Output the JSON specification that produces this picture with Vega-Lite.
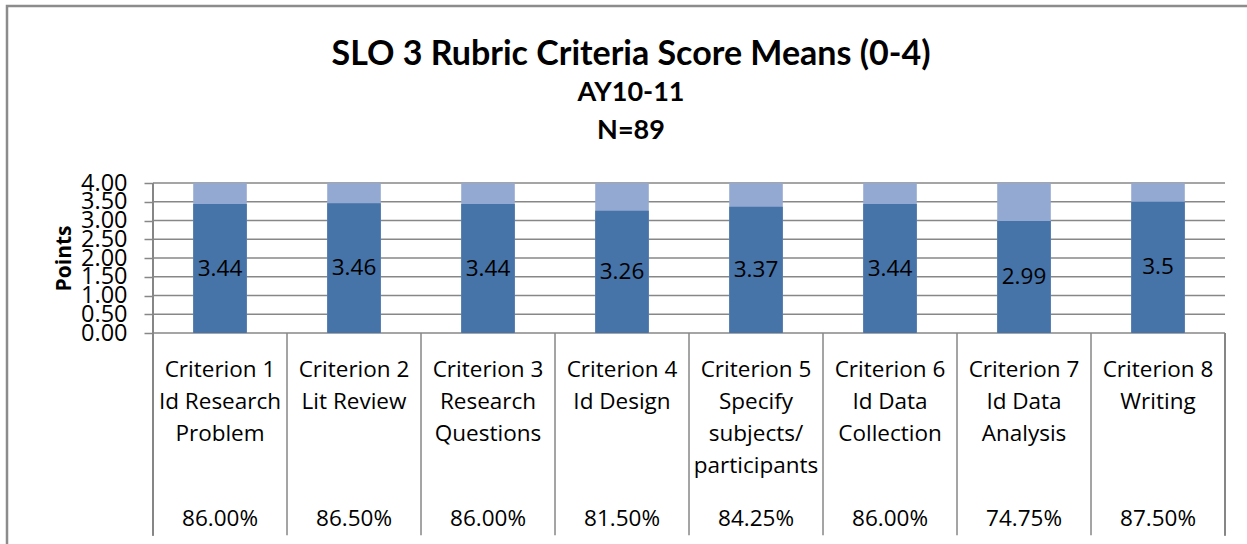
{
  "$schema": "https://vega.github.io/schema/vega-lite/v6.json",
  "autosize": "none",
  "padding": {"left": 7, "top": 6, "right": 0, "bottom": 0},
  "width": 1340,
  "height": 560,
  "background": "white",
  "config": {
    "view": {"stroke": "#8c8c8c", "strokeWidth": 2.5},
    "font": "Open Sans"
  },
  "title": {
    "text": "SLO 3 Rubric Criteria Score Means (0-4)",
    "subtitle": ["AY10-11", "N=89"],
    "anchor": "middle",
    "dx": -46,
    "offset": -138,
    "font": "Lato",
    "fontSize": 34,
    "fontWeight": "bold",
    "color": "#000000",
    "subtitleFont": "Lato",
    "subtitleFontSize": 27,
    "subtitleFontWeight": "bold",
    "subtitleColor": "#000000",
    "subtitleLineHeight": 38,
    "subtitlePadding": 8
  },
  "data": {
    "values": [
      {"criterion": "Criterion 1", "lines": ["Criterion 1", "Id Research", "Problem"], "value": 3.44, "pct": 0.86},
      {"criterion": "Criterion 2", "lines": ["Criterion 2", "Lit Review"], "value": 3.46, "pct": 0.865},
      {"criterion": "Criterion 3", "lines": ["Criterion 3", "Research", "Questions"], "value": 3.44, "pct": 0.86},
      {"criterion": "Criterion 4", "lines": ["Criterion 4", "Id Design"], "value": 3.26, "pct": 0.815},
      {"criterion": "Criterion 5", "lines": ["Criterion 5", "Specify", "subjects/", "participants"], "value": 3.37, "pct": 0.8425},
      {"criterion": "Criterion 6", "lines": ["Criterion 6", "Id Data", "Collection"], "value": 3.44, "pct": 0.86},
      {"criterion": "Criterion 7", "lines": ["Criterion 7", "Id Data", "Analysis"], "value": 2.99, "pct": 0.7475},
      {"criterion": "Criterion 8", "lines": ["Criterion 8", "Writing"], "value": 3.5, "pct": 0.875}
    ]
  },
  "resolve": {"scale": {"x": "independent"}},
  "layer": [
    {
      "layer": [
        {
          "data": {"values": [{"g": 0}, {"g": 0.5}, {"g": 1}, {"g": 1.5}, {"g": 2}, {"g": 2.5}, {"g": 3}, {"g": 3.5}, {"g": 4}]},
          "mark": {"type": "rule", "color": "#878787", "strokeWidth": 1.5},
          "encoding": {
            "y": {"field": "g", "type": "quantitative",
                  "scale": {"domain": [-6.2133, 8.72], "nice": false, "zero": false},
                  "axis": {"values": [0, 0.5, 1, 1.5, 2, 2.5, 3, 3.5, 4], "format": ".2f", "offset": -146, "orient": "left",
                           "domain": false, "grid": false, "tickSize": 9, "tickColor": "#878787", "tickWidth": 1.5,
                           "labelFont": "Open Sans", "labelFontSize": 23.5, "labelColor": "#000000", "labelPadding": 17,
                           "labelOverlap": false, "labelBound": false, "labelFlush": false,
                           "title": "Points", "titleFont": "Open Sans", "titleFontSize": 21, "titleFontWeight": "bold",
                           "titleColor": "#000000", "titlePadding": 6, "titleY": 252}},
            "x": {"datum": 0, "type": "quantitative", "axis": null,
                  "scale": {"domain": [-1.0896, 8.9104], "nice": false, "zero": false}},
            "x2": {"datum": 8}
          }
        },
        {
          "mark": {"type": "rule", "color": "#878787", "strokeWidth": 1.5},
          "encoding": {
            "x": {"datum": 0, "type": "quantitative", "axis": null},
            "y": {"datum": 4, "type": "quantitative"},
            "y2": {"datum": -5.39}
          }
        },
        {
          "mark": {"type": "rule", "color": "#878787", "strokeWidth": 1.5},
          "encoding": {
            "x": {"datum": 8, "type": "quantitative", "axis": null},
            "y": {"datum": 0, "type": "quantitative"},
            "y2": {"datum": -5.39}
          }
        }
      ]
    },
    {
      "layer": [
        {
          "mark": {"type": "bar", "color": "#94a9d1", "width": {"band": 0.4}},
          "encoding": {
            "x": {"field": "criterion", "type": "nominal", "axis": null,
                  "scale": {"paddingInner": 0, "paddingOuter": 1, "align": 0.5448}},
            "y": {"datum": 4, "type": "quantitative"}
          }
        },
        {
          "mark": {"type": "bar", "color": "#4673a8", "width": {"band": 0.4}},
          "encoding": {
            "x": {"field": "criterion", "type": "nominal", "axis": null},
            "y": {"field": "value", "type": "quantitative"}
          }
        },
        {
          "mark": {"type": "rule", "color": "#878787", "strokeWidth": 1.5},
          "encoding": {
            "x": {"field": "criterion", "type": "nominal", "bandPosition": 0, "axis": null},
            "y": {"datum": 0, "type": "quantitative"},
            "y2": {"datum": -5.39}
          }
        },
        {
          "transform": [{"calculate": "datum.value / 2", "as": "mid"}],
          "mark": {"type": "text", "font": "Open Sans", "fontSize": 22.5, "color": "#000000", "baseline": "middle"},
          "encoding": {
            "x": {"field": "criterion", "type": "nominal", "axis": null},
            "y": {"field": "mid", "type": "quantitative"},
            "text": {"field": "value", "type": "nominal"}
          }
        },
        {
          "mark": {"type": "text", "font": "Open Sans", "fontSize": 22.5, "color": "#000000", "baseline": "alphabetic", "lineHeight": 32},
          "encoding": {
            "x": {"field": "criterion", "type": "nominal", "axis": null},
            "y": {"datum": -1.17, "type": "quantitative"},
            "text": {"field": "lines", "type": "nominal"}
          }
        },
        {
          "mark": {"type": "text", "font": "Open Sans", "fontSize": 22.5, "color": "#000000", "baseline": "middle"},
          "encoding": {
            "x": {"field": "criterion", "type": "nominal", "axis": null},
            "y": {"datum": -4.96, "type": "quantitative"},
            "text": {"field": "pct", "type": "quantitative", "format": ".2%"}
          }
        }
      ]
    }
  ]
}
